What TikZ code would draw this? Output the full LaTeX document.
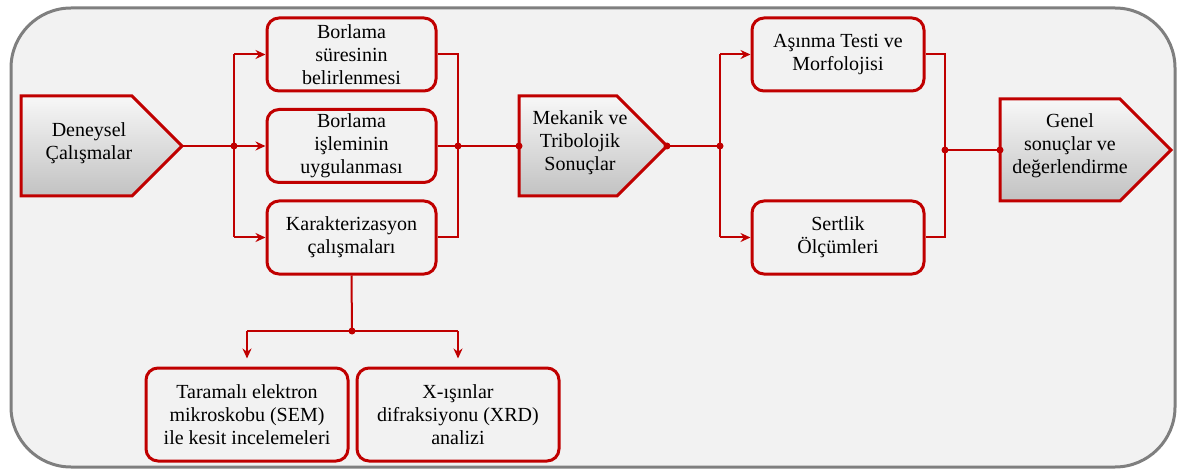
\documentclass[tikz,border=0pt]{standalone}
\usepackage{fontspec}
\setmainfont{Liberation Serif}
\usetikzlibrary{arrows.meta}
\definecolor{myred}{HTML}{C00000}
\definecolor{bgc}{HTML}{F2F2F2}
\definecolor{framec}{HTML}{7F7F7F}
\begin{document}
\begin{tikzpicture}[x=1pt,y=-1pt,
  box/.style={draw=myred, line width=3pt, rounded corners=12pt, fill=bgc, align=center, font=\fontsize{20}{23}\selectfont, inner sep=0pt},
  conn/.style={draw=myred, line width=2pt},
  arr/.style={conn, -{Stealth[length=10pt,width=9pt]}},
  dot/.style={circle, fill=myred, inner sep=0pt, minimum size=7pt},
  penta/.style={draw=myred, line width=3pt, top color=gray!6, bottom color=gray!48, line join=miter},
  ptext/.style={align=center, font=\fontsize{20}{23}\selectfont, inner sep=0pt}
]
\useasboundingbox (0,0) rectangle (1177,470);
\draw[framec, line width=3pt, fill=bgc, rounded corners=60pt] (11,8) rectangle (1175,467);

% pentagons
\path[penta] (21,96) -- (132,96) -- (182,146) -- (132,196) -- (21,196) -- cycle;
\node[ptext] (dey) at (89,143) {Deneysel\\Çalışmalar};
\coordinate (deyE) at (182,146);

\path[penta] (519,96) -- (617,96) -- (667,146) -- (617,196) -- (519,196) -- cycle;
\node[ptext] (mek) at (580,143) {Mekanik ve\\Tribolojik\\Sonuçlar};
\coordinate (mekW) at (519,146);
\coordinate (mekE) at (667,146);

\path[penta] (1000,99) -- (1120,99) -- (1171,150) -- (1120,201) -- (1000,201) -- cycle;
\node[ptext] (gen) at (1070,146) {Genel\\sonuçlar ve\\değerlendirme};
\coordinate (genW) at (1000,150);

% boxes
\node[box, minimum width=169pt, minimum height=73pt] (b1) at (351.5,54.5) {Borlama\\süresinin\\belirlenmesi};
\node[box, minimum width=169pt, minimum height=73pt] (b2) at (351.5,146) {Borlama\\işleminin\\uygulanması};
\node[box, minimum width=169pt, minimum height=73pt] (b3) at (351.5,237.5) {Karakterizasyon\\çalışmaları};
\node[box, minimum width=172pt, minimum height=73pt] (a1) at (838,54.5) {Aşınma Testi ve\\Morfolojisi};
\node[box, minimum width=172pt, minimum height=73pt] (s1) at (838,237.5) {Sertlik\\Ölçümleri};
\node[box, minimum width=202pt, minimum height=93pt] (sem) at (247,414.5) {Taramalı elektron\\mikroskobu (SEM)\\ile kesit incelemeleri};
\node[box, minimum width=202pt, minimum height=93pt] (xrd) at (458,414.5) {X-ışınlar\\difraksiyonu (XRD)\\analizi};

% connectors left group
\coordinate (j1) at (234,146);
\draw[conn] (deyE) -- (j1);
\draw[conn] (j1 |- b1.west) -- (j1 |- b3.west);
\draw[arr] (j1 |- b1.west) -- (b1.west);
\draw[arr] (j1) -- (b2.west);
\draw[arr] (j1 |- b3.west) -- (b3.west);

\coordinate (j2) at (458,146);
\draw[conn] (b1.east) -- (j2 |- b1.east) -- (j2 |- b3.east) -- (b3.east);
\draw[conn] (b2.east) -- (j2) -- (mekW);

% right group
\coordinate (j3) at (720,146);
\draw[conn] (mekE) -- (j3);
\draw[conn] (j3 |- a1.west) -- (j3 |- s1.west);
\draw[arr] (j3 |- a1.west) -- (a1.west);
\draw[arr] (j3 |- s1.west) -- (s1.west);

\coordinate (j4) at (945,150);
\draw[conn] (a1.east) -- (j4 |- a1.east) -- (j4 |- s1.east) -- (s1.east);
\draw[conn] (j4) -- (genW);

% bottom group
\coordinate (j5) at (352,331);
\draw[conn] (b3.south) -- (j5);
\draw[conn] (sem |- j5) -- (xrd |- j5);
\draw[arr, shorten >=8pt] (sem |- j5) -- (sem.north);
\draw[arr, shorten >=8pt] (xrd |- j5) -- (xrd.north);

% dots
\node[dot] (d1) at (j1) {};
\node[dot] (d2) at (j2) {};
\node[dot] (d3) at (mekW) {};
\node[dot] (d4) at (mekE) {};
\node[dot] (d5) at (j3) {};
\node[dot] (d6) at (j4) {};
\node[dot] (d7) at (genW) {};
\node[dot] (d8) at (j5) {};
\end{tikzpicture}
\end{document}
